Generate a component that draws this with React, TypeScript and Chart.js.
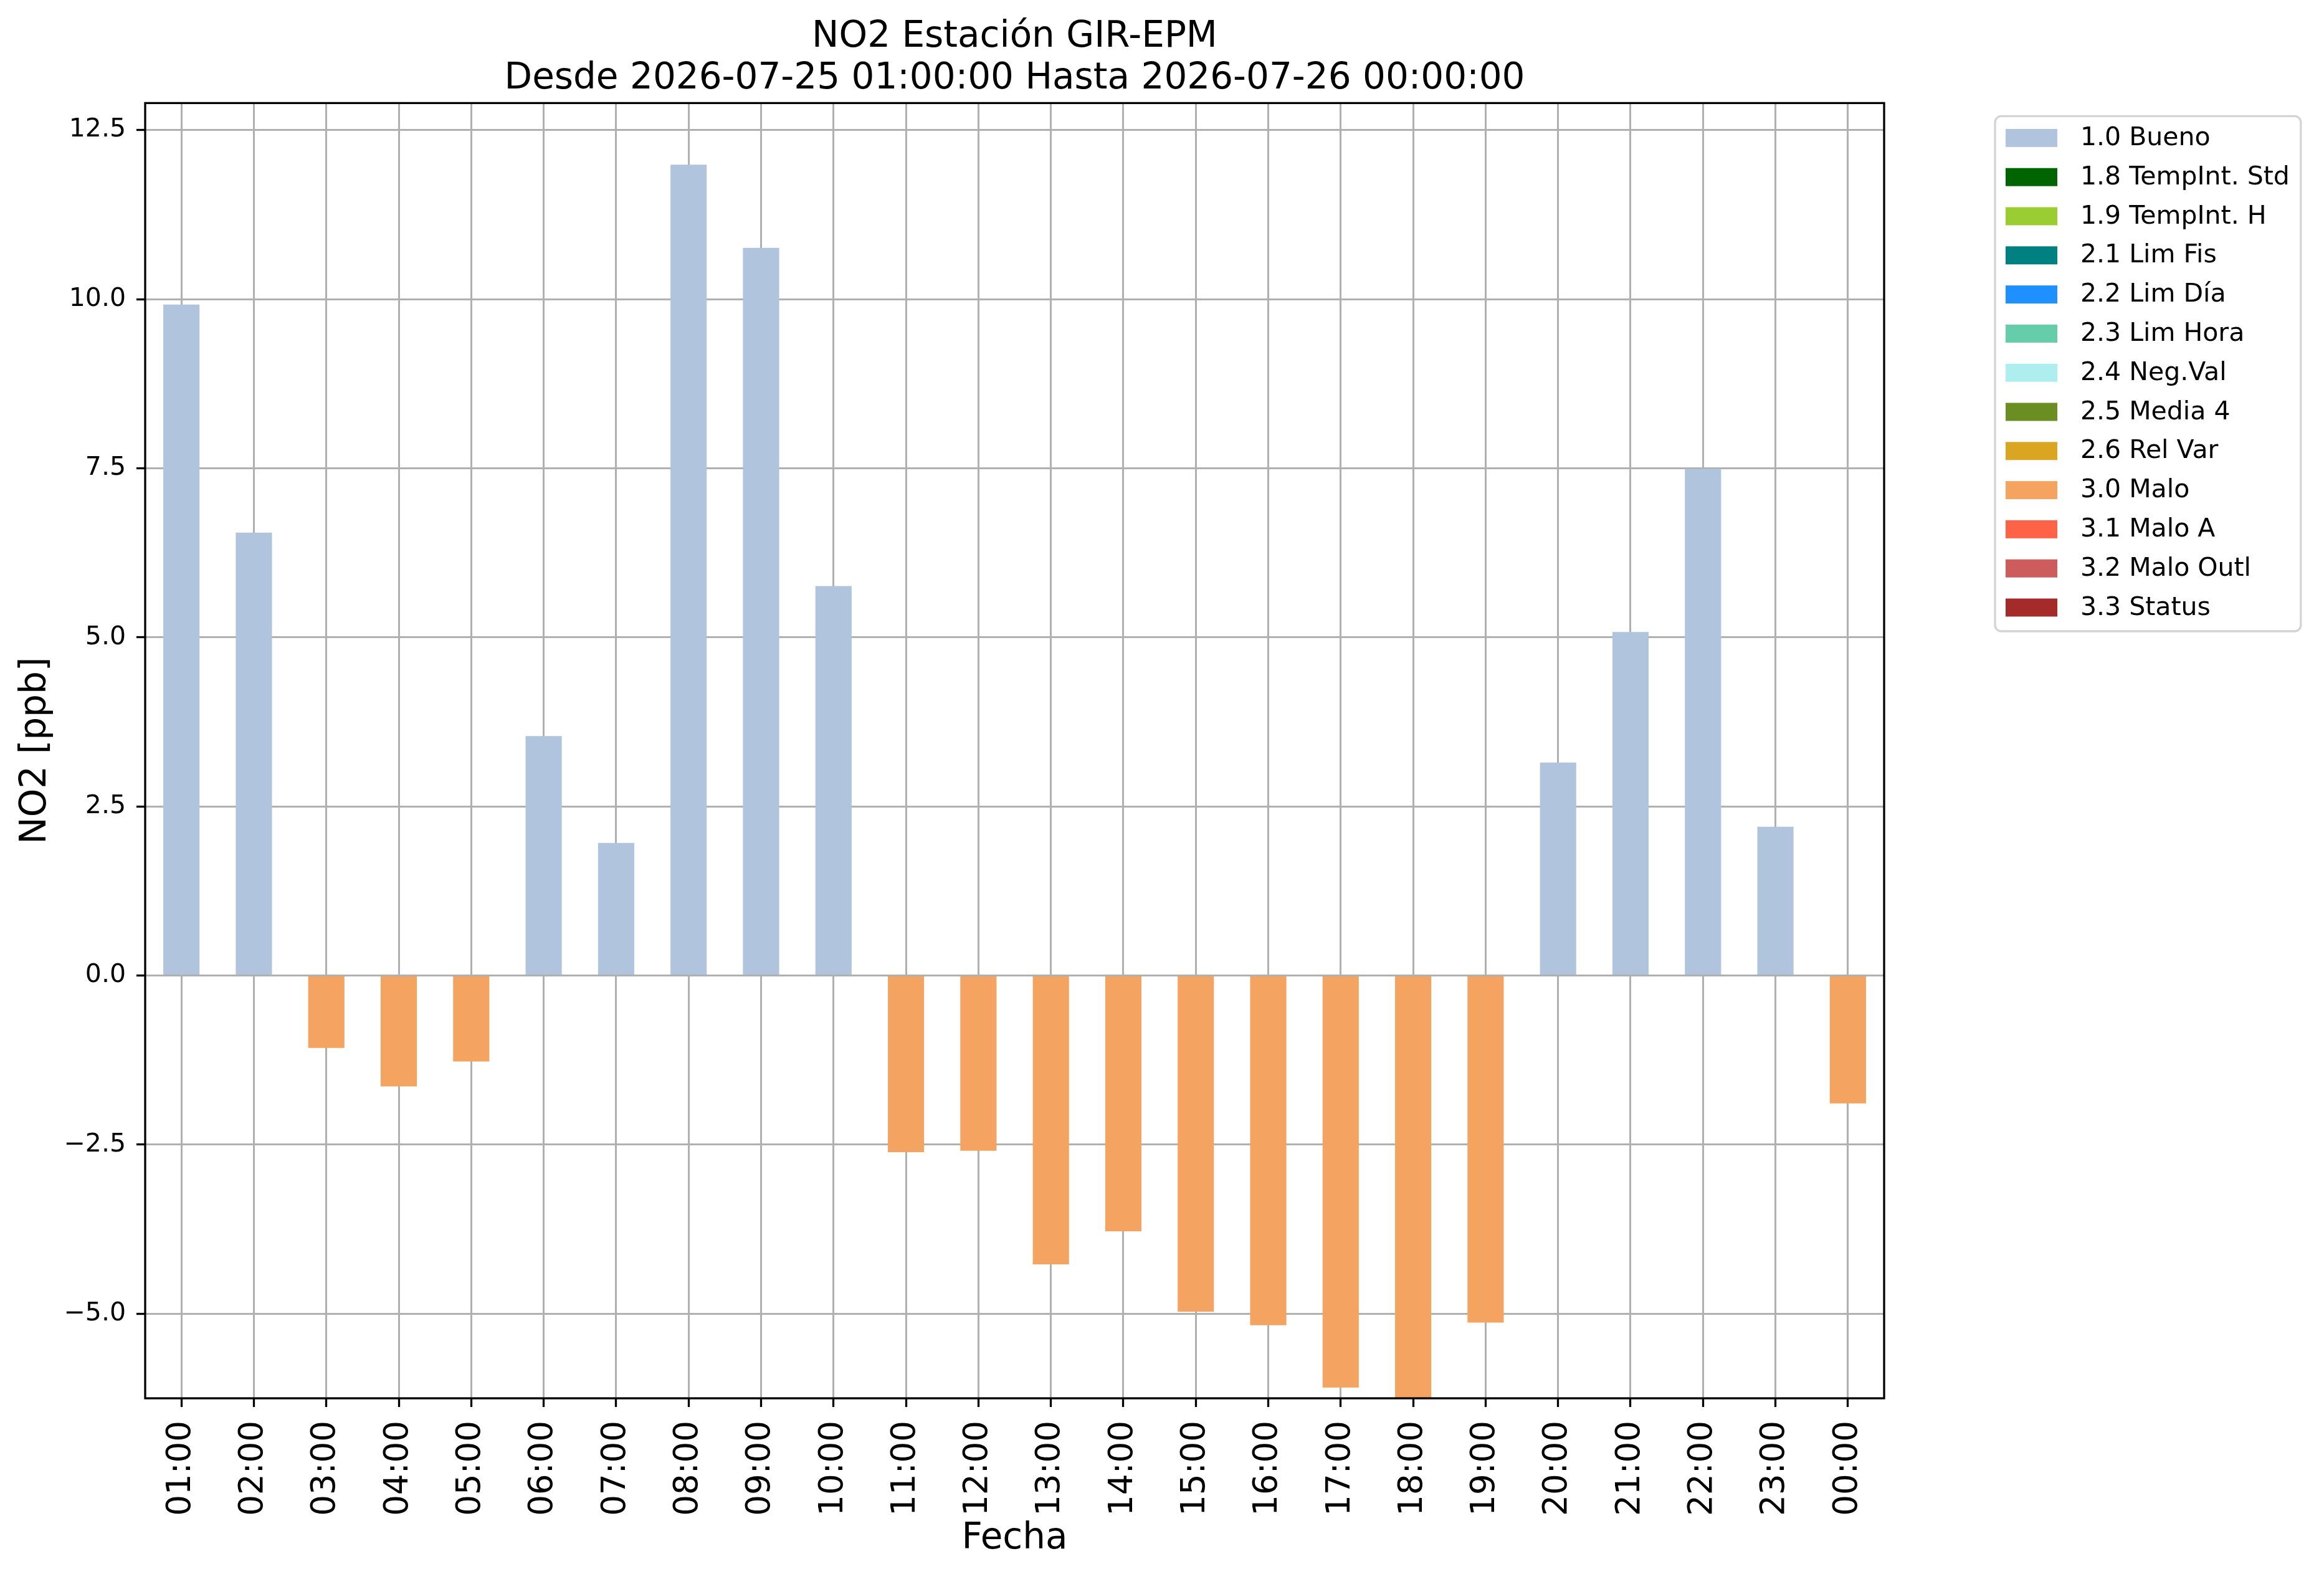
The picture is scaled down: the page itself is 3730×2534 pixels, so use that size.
import { useEffect, useRef } from "react";
import { Chart, registerables } from "chart.js";

Chart.register(...registerables);

const FONT = '"DejaVu Sans", "Liberation Sans", sans-serif';

const titleLines = [
  "NO2 Estación GIR-EPM",
  "Desde 2026-07-25 01:00:00 Hasta 2026-07-26 00:00:00",
];
const xAxisTitle = "Fecha";
const yAxisTitle = "NO2 [ppb]";

const hours = [
  "01:00", "02:00", "03:00", "04:00", "05:00", "06:00", "07:00", "08:00",
  "09:00", "10:00", "11:00", "12:00", "13:00", "14:00", "15:00", "16:00",
  "17:00", "18:00", "19:00", "20:00", "21:00", "22:00", "23:00", "00:00",
];

const no2Values = [
  9.92, 6.55, -1.07, -1.64, -1.27, 3.54, 1.96, 11.99,
  10.76, 5.76, -2.61, -2.59, -4.27, -3.78, -4.97, -5.17,
  -6.09, -6.25, -5.13, 3.15, 5.08, 7.49, 2.2, -1.89,
];

const hourFlags = [
  "1.0", "1.0", "3.0", "3.0", "3.0", "1.0", "1.0", "1.0",
  "1.0", "1.0", "3.0", "3.0", "3.0", "3.0", "3.0", "3.0",
  "3.0", "3.0", "3.0", "1.0", "1.0", "1.0", "1.0", "3.0",
];

const flagCodes = ["1.0", "1.8", "1.9", "2.1", "2.2", "2.3", "2.4", "2.5", "2.6", "3.0", "3.1", "3.2", "3.3"];
const flagNames = [
  "Bueno", "TempInt. Std", "TempInt. H", "Lim Fis", "Lim Día", "Lim Hora",
  "Neg.Val", "Media 4", "Rel Var", "Malo", "Malo A", "Malo Outl", "Status",
];
const flagColors = [
  "#b0c4de", "#006400", "#9acd32", "#008080", "#1e90ff", "#66cdaa",
  "#afeeee", "#6b8e23", "#daa520", "#f4a460", "#ff6347", "#cd5c5c", "#a52a2a",
];

const yMin = -6.25;
const yMax = 12.9;
const yStep = 2.5;

const framePlugin = {
  id: "mplFrame",
  afterDraw(chart: any) {
    const { ctx, chartArea } = chart;
    ctx.save();
    ctx.strokeStyle = "#000";
    ctx.lineWidth = 3.3;
    ctx.strokeRect(chartArea.left, chartArea.top, chartArea.right - chartArea.left, chartArea.bottom - chartArea.top);
    ctx.restore();
  },
};

const legendPlugin = {
  id: "mplLegend",
  afterDraw(chart: any) {
    const { ctx, chartArea } = chart;
    const fs = 41;
    const rowH = 62.8;
    const boxW = 83;
    const boxH = 29;
    const x0 = chartArea.right + 178;
    const y0 = chartArea.top + 21;
    const items = chart.data.datasets;
    ctx.save();
    ctx.font = `${fs}px ${FONT}`;
    let maxW = 0;
    items.forEach((d: any) => {
      maxW = Math.max(maxW, ctx.measureText(d.label).width);
    });
    const w = 137 + maxW + 18;
    const h = 2 * 36.5 + (items.length - 1) * rowH;
    const r = 10;
    ctx.beginPath();
    ctx.moveTo(x0 + r, y0);
    ctx.lineTo(x0 + w - r, y0);
    ctx.arcTo(x0 + w, y0, x0 + w, y0 + r, r);
    ctx.lineTo(x0 + w, y0 + h - r);
    ctx.arcTo(x0 + w, y0 + h, x0 + w - r, y0 + h, r);
    ctx.lineTo(x0 + r, y0 + h);
    ctx.arcTo(x0, y0 + h, x0, y0 + h - r, r);
    ctx.lineTo(x0, y0 + r);
    ctx.arcTo(x0, y0, x0 + r, y0, r);
    ctx.closePath();
    ctx.fillStyle = "rgba(255,255,255,0.8)";
    ctx.fill();
    ctx.strokeStyle = "#d4d4d4";
    ctx.lineWidth = 3.3;
    ctx.stroke();
    ctx.textBaseline = "middle";
    ctx.textAlign = "left";
    items.forEach((d: any, i: number) => {
      const cy = y0 + 35 + i * rowH;
      ctx.fillStyle = d.backgroundColor;
      ctx.fillRect(x0 + 17, cy - boxH / 2, boxW, boxH);
      ctx.fillStyle = "#000";
      ctx.fillText(d.label, x0 + 137, cy + 1);
    });
    ctx.restore();
  },
};

export default function App() {
  const canvasRef = useRef<HTMLCanvasElement | null>(null);

  useEffect(() => {
    const canvas = canvasRef.current;
    if (!canvas) return;

    const datasets = flagCodes.map((code, k) => ({
      label: `${code} ${flagNames[k]}`,
      data: no2Values.map((v, i) => (hourFlags[i] === code ? v : null)),
      backgroundColor: flagColors[k],
      borderWidth: 0,
      grouped: false,
      barPercentage: 0.5,
      categoryPercentage: 1.0,
    }));

    const chart = new Chart(canvas, {
      type: "bar",
      data: { labels: hours, datasets },
      plugins: [framePlugin, legendPlugin],
      options: {
        animation: false,
        responsive: false,
        devicePixelRatio: 1,
        layout: { padding: { left: 0, top: 0, right: 706, bottom: 0 } },
        plugins: {
          legend: { display: false },
          tooltip: { enabled: false },
          title: {
            display: true,
            fullSize: false,
            text: titleLines,
            color: "#000",
            font: { family: FONT, size: 58, weight: "normal", lineHeight: 1.15 },
            padding: { top: 27, bottom: 5 },
          },
        },
        scales: {
          x: {
            type: "category",
            offset: true,
            z: 1,
            afterFit: (scale: any) => {
              scale.height = 290;
            },
            grid: {
              display: true,
              offset: false,
              color: "#b0b0b0",
              lineWidth: 3,
              drawTicks: true,
              tickLength: 14,
              tickColor: "#000",
              tickWidth: 3.3,
            },
            border: { display: false },
            ticks: {
              autoSkip: false,
              minRotation: 90,
              maxRotation: 90,
              padding: 22,
              color: "#000",
              font: { family: FONT, size: 53 },
            },
            title: {
              display: true,
              text: xAxisTitle,
              color: "#000",
              font: { family: FONT, size: 58, lineHeight: 1.2 },
              padding: { top: 0, bottom: 29 },
            },
          },
          y: {
            type: "linear",
            min: yMin,
            max: yMax,
            z: 1,
            afterFit: (scale: any) => {
              scale.width = 233;
            },
            grid: {
              display: true,
              color: "#b0b0b0",
              lineWidth: 3,
              drawTicks: true,
              tickLength: 14,
              tickColor: "#000",
              tickWidth: 3.3,
            },
            border: { display: false },
            ticks: {
              stepSize: yStep,
              includeBounds: false,
              padding: 17,
              color: "#000",
              font: { family: FONT, size: 41 },
              callback: (v: any) => {
                const n = Number(v);
                return (n < 0 ? "\u2212" : "") + Math.abs(n).toFixed(1);
              },
            },
            title: {
              display: true,
              text: yAxisTitle,
              color: "#000",
              font: { family: FONT, size: 58, lineHeight: 1.2 },
              padding: { top: 23, bottom: 0 },
            },
          },
        },
      } as any,
    });

    return () => {
      chart.destroy();
    };
  }, []);

  return (
    <div
      style={{
        position: "absolute",
        left: 0,
        top: 0,
        width: 3730,
        height: 2534,
        background: "#fff",
        overflow: "hidden",
      }}
    >
      <canvas ref={canvasRef} width={3730} height={2534} style={{ width: 3730, height: 2534, display: "block" }} />
    </div>
  );
}
